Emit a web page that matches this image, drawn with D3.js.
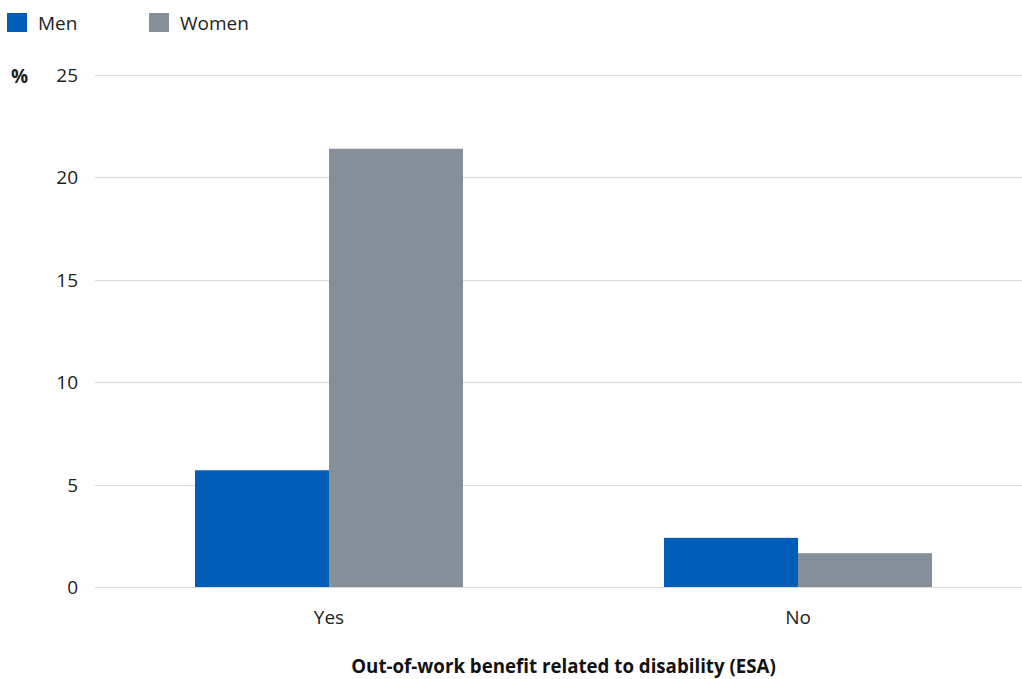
<!DOCTYPE html>
<html><head><meta charset="utf-8">
<script src="https://cdn.jsdelivr.net/npm/d3@7"></script>
<style>body{margin:0;background:#fff;} svg{display:block;font-family:"Open Sans",sans-serif;}</style>
</head><body>
<svg id="chart" width="1022" height="679"></svg>
<script>
const categories = ["Yes", "No"];
const seriesNames = ["Men", "Women"];
const menValues = [5.7, 2.4];
const womenValues = [21.4, 1.65];
const yTicks = [0, 5, 10, 15, 20, 25];
const colors = ["#005EB8", "#858F99"];
const xTitle = "Out-of-work benefit related to disability (ESA)";
const yUnit = "%";

(function () {
const svg = d3.select("#chart");
const W = 1022;
const plotLeft = 94.5, plotRight = 1032.5, plotTop = 75, plotBottom = 587;
const fs = 19;

const x = d3.scaleBand().domain(categories).range([plotLeft, plotRight]).paddingInner(0.4286).paddingOuter(0.2143);
const xs = d3.scaleBand().domain(seriesNames).range([0, x.bandwidth()]);
const y = d3.scaleLinear().domain([0, 25]).range([plotBottom, plotTop]);

// gridlines
svg.append("g").selectAll("line").data(yTicks).join("line")
  .attr("x1", 95).attr("x2", W)
  .attr("y1", d => Math.round(y(d)) + 0.5).attr("y2", d => Math.round(y(d)) + 0.5)
  .attr("stroke", "#d9d9d9").attr("stroke-width", 1);

// y tick labels
svg.append("g").selectAll("text").data(yTicks).join("text")
  .attr("x", 78).attr("y", d => y(d) + 7)
  .attr("text-anchor", "end").attr("font-size", fs).attr("fill", "#222")
  .text(d => d);

svg.append("text").attr("x", 11).attr("y", 83).attr("font-size", fs)
  .attr("font-weight", "bold").attr("fill", "#222").text(yUnit);

// bars
const data = categories.map((c, i) => ({cat: c, values: [menValues[i], womenValues[i]]}));
const groups = svg.append("g").selectAll("g").data(data).join("g")
  .attr("transform", d => `translate(${x(d.cat)},0)`);
groups.selectAll("rect").data(d => d.values.map((v, j) => ({s: seriesNames[j], v, j})))
  .join("rect")
  .attr("x", d => xs(d.s)).attr("width", xs.bandwidth())
  .attr("y", d => y(d.v)).attr("height", d => y(0) - y(d.v))
  .attr("fill", d => colors[d.j]);

// x labels
svg.append("g").selectAll("text").data(categories).join("text")
  .attr("x", d => x(d) + x.bandwidth() / 2).attr("y", 624)
  .attr("text-anchor", "middle").attr("font-size", fs).attr("fill", "#222")
  .text(d => d);

svg.append("text").attr("x", (plotLeft + plotRight) / 2).attr("y", 673)
  .attr("text-anchor", "middle").attr("font-size", 18.7).attr("font-weight", "bold")
  .attr("fill", "#111").text(xTitle);

// legend
const legX = [7, 149];
const leg = svg.append("g").selectAll("g").data(seriesNames).join("g")
  .attr("transform", (d, i) => `translate(${legX[i]},13)`);
leg.append("rect").attr("width", 20).attr("height", 19).attr("fill", (d, i) => colors[i]);
leg.append("text").attr("x", 31).attr("y", 17).attr("font-size", fs).attr("fill", "#222").text(d => d);
})();
</script>
</body></html>
